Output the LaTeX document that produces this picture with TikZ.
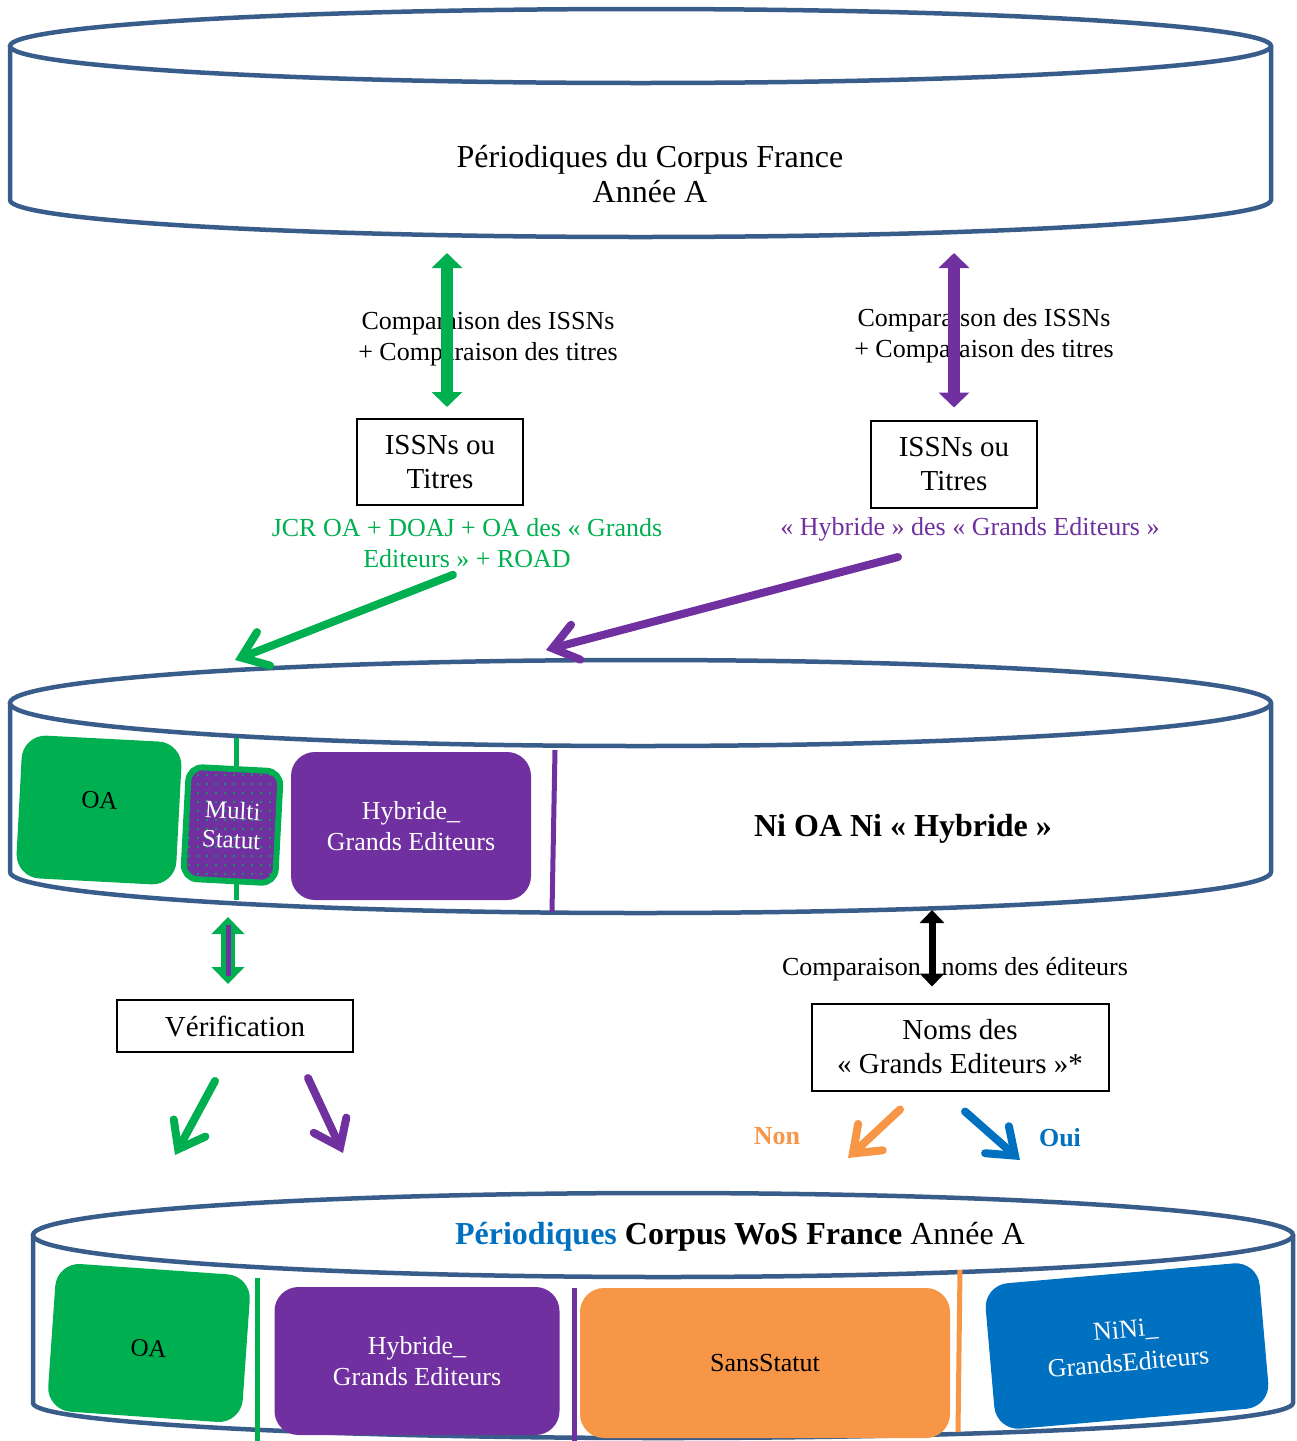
\documentclass[tikz,border=0pt]{standalone}
\usepackage{fontspec}
\setmainfont{Liberation Serif}
\usetikzlibrary{arrows.meta,patterns.meta,positioning}

\definecolor{cylblue}{HTML}{385D8A}
\definecolor{oagreen}{HTML}{00B050}
\definecolor{hybpurple}{HTML}{7030A0}
\definecolor{sansorange}{HTML}{F79646}
\definecolor{niniblue}{HTML}{0070C0}

\tikzset{
  cyl/.style={draw=cylblue, line width=4.5pt, fill=white},
  txt/.style={inner sep=0pt, align=center, font=\fontsize{26}{31}\selectfont},
  bigtxt/.style={inner sep=0pt, align=center, font=\fontsize{32}{35}\selectfont},
  box/.style={draw, line width=2pt, align=center, inner sep=0pt, font=\fontsize{29}{34}\selectfont},
  tile/.style={rounded corners=24pt, align=center, inner sep=0pt, font=\fontsize{26}{31}\selectfont},
  dblarrow/.style={line width=12pt, {Triangle[width=30pt,length=15pt]}-{Triangle[width=30pt,length=15pt]}},
  openarrow/.style={line width=8pt, line cap=round, -{Straight Barb[length=24pt,width=36pt,line cap=round,line join=miter]}},
  divider/.style={line width=5pt}
}

\begin{document}
\begin{tikzpicture}[x=1pt, y=-1pt]
\useasboundingbox (0,0) rectangle (1297,1441);

% source database
\draw[cyl] (10,46) -- (10,200) arc[start angle=180, end angle=0, x radius=630.5, y radius=37] -- (1271,46);
\draw[cyl] (640.5,46) ellipse [x radius=630.5, y radius=37];
\node[bigtxt] (corpus) at (650,174) {Périodiques du Corpus France\\Année A};

\node[txt] (cmpG) at (488,339) {Comparaison des ISSNs\\+ Comparaison des titres};
\node[txt] (cmpP) at (984,336) {Comparaison des ISSNs\\+ Comparaison des titres};
\node[box, minimum width=166pt, minimum height=86pt] (issnG) at (440,462) {ISSNs ou\\Titres};
\node[box, minimum width=166pt, minimum height=87pt] (issnP) at (954,464) {ISSNs ou\\Titres};
\node[txt, text=oagreen] (srcG) at (467,543) {JCR OA + DOAJ + OA des «~Grands\\Editeurs~» + ROAD};
\node[txt, text=hybpurple] (srcP) at (970,529) {«~Hybride~» des «~Grands Editeurs~»};

% middle database
\draw[cyl] (10,703) -- (10,872) arc[start angle=180, end angle=0, x radius=630.5, y radius=41] -- (1271,703);
\draw[cyl] (640.5,703) ellipse [x radius=630.5, y radius=43];

\draw[divider, oagreen] (236,738) -- (236,900);
\draw[divider, hybpurple] (555,750) -- (552,912);
\node[tile, fill=oagreen, rotate=-3, minimum width=160pt, minimum height=143pt, text depth=20pt, font=\fontsize{25}{29}\selectfont] (oaMid) at (99,810) {OA};
\node[tile, rounded corners=14pt, fill=hybpurple, draw=oagreen, line width=6pt,
  postaction={pattern={Dots[distance=9pt,radius=1.2pt]}, pattern color=oagreen},
  rotate=-3, minimum width=92pt, minimum height=112pt, text=white, font=\fontsize{25}{29}\selectfont] (multi) at (232,825) {Multi\\Statut};
\node[tile, fill=hybpurple, text=white, minimum width=240pt, minimum height=148pt] (hybMid) at (411,826) {Hybride\_\\Grands Editeurs};
\node[bigtxt, font=\fontsize{32}{35}\selectfont\bfseries] (ninMid) at (903,829) {Ni OA Ni «~Hybride~»};

\coordinate (gTop) at (447,253);
\coordinate (pTop) at (954,253);
\coordinate (gIn) at (235,660);
\coordinate (pIn) at (546,650);
\draw[dblarrow, oagreen, shorten >=11pt] (gTop) -- (gTop |- issnG.north);
\draw[dblarrow, hybpurple, shorten >=12pt] (pTop) -- (pTop |- issnP.north);
\draw[openarrow, oagreen] ([shift={(-14,7)}]srcG.south) -- (gIn);
\draw[openarrow, hybpurple] ([shift={(-72,16)}]srcP.south) -- (pIn);

% checks
\node[box, minimum width=236pt, minimum height=52pt] (verif) at (235,1026) {Vérification};
\node[txt] (cmpN) at (955,969) {Comparaison\hspace{0.8em}noms des éditeurs};
\node[box, minimum width=297pt, minimum height=87pt] (noms) at (960,1047) {Noms des\\«~Grands Editeurs~»*};
\node[txt, text=sansorange, font=\fontsize{26}{31}\selectfont\bfseries] (non) at (777,1136) {Non};
\node[txt, text=niniblue, font=\fontsize{26}{31}\selectfont\bfseries] (oui) at (1060,1138) {Oui};

\coordinate (vTop) at (228,917);
\coordinate (bTop) at (932,910);
\draw[line width=14pt, oagreen, {Triangle[width=32pt,length=17pt]}-{Triangle[width=32pt,length=17pt]}, shorten >=15pt] (vTop) -- (vTop |- verif.north);
\draw[line width=5pt, hybpurple, shorten <=8pt, shorten >=23pt] (vTop) -- (vTop |- verif.north);
\draw[line width=7pt, {Triangle[width=24pt,length=13pt]}-{Triangle[width=24pt,length=13pt]}, shorten >=16pt] (bTop) -- (bTop |- noms.north);

\coordinate (oaIn) at (175,1155);
\coordinate (hybIn) at (343,1153);
\coordinate (sansIn) at (848,1158);
\coordinate (niniIn) at (1020,1160);
\draw[openarrow, oagreen] ([shift={(-20,28)}]verif.south) -- (oaIn);
\draw[openarrow, hybpurple] ([shift={(73,25)}]verif.south) -- (hybIn);
\draw[openarrow, sansorange] ([shift={(-60,18)}]noms.south) -- (sansIn);
\draw[openarrow, niniblue] ([shift={(5,20)}]noms.south) -- (niniIn);

% result database
\draw[cyl] (33,1235) -- (33,1403) arc[start angle=180, end angle=0, x radius=630, y radius=35] -- (1293,1235);
\draw[cyl] (663,1235) ellipse [x radius=630, y radius=42];
\node[bigtxt] (wos) at (740,1237) {\textcolor{niniblue}{\bfseries Périodiques} \textbf{Corpus WoS France} Année A};

\draw[divider, oagreen] (257,1278) -- (257,1441);
\draw[divider, hybpurple] (574,1288) -- (574,1441);
\draw[divider, sansorange] (960,1270) -- (958,1432);
\node[tile, fill=oagreen, rotate=-4, minimum width=195pt, minimum height=148pt, text height=28pt, font=\fontsize{25}{29}\selectfont] (oaBot) at (149,1343) {OA};
\node[tile, fill=hybpurple, text=white, minimum width=285pt, minimum height=148pt, text depth=0pt] (hybBot) at (417,1361) {Hybride\_\\Grands Editeurs};
\node[tile, fill=sansorange, minimum width=370pt, minimum height=150pt] (sansBot) at (765,1363) {SansStatut};
\node[tile, fill=niniblue, text=white, rotate=5, minimum width=275pt, minimum height=146pt, font=\fontsize{26}{33}\selectfont] (niniBot) at (1127,1346) {NiNi\_\\GrandsEditeurs};
\end{tikzpicture}
\end{document}
